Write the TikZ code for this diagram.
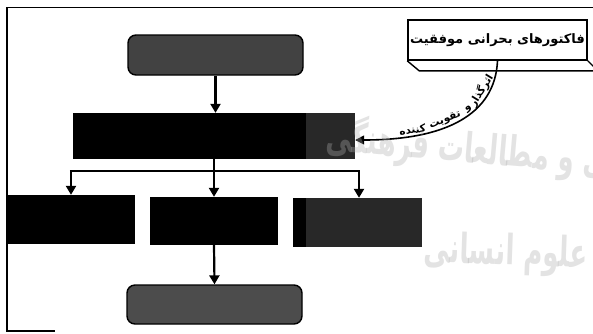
\documentclass[tikz,border=0pt]{standalone}
\usepackage{fontspec}
\usetikzlibrary{arrows.meta}
\TeXXeTstate=1
\newfontfamily\fa[Script=Arabic]{DejaVu Sans}
\definecolor{dgray}{RGB}{40,40,40}
\begin{document}
\begin{tikzpicture}[x=1pt,y=-1pt,
  conn/.style={line width=2.2pt,-{Triangle[width=10pt,length=9pt]}},
  plainline/.style={line width=2.2pt},
  term/.style={draw=black,line width=1.4pt,fill=black!74,rounded corners=8pt,inner sep=0pt},
  blk/.style={fill=black,draw=none,inner sep=0pt},
  blkg/.style={fill=dgray,draw=none,inner sep=0pt},
  framel/.style={line width=1.5pt},
  curvetext/.style={font=\fa\bfseries\fontsize{10.5}{11}\selectfont,sloped,above,inner sep=0.8pt},
  wmark/.style={anchor=base west,text=black!32,text opacity=0.34,inner sep=0pt,font=\fa\bfseries\fontsize{26}{28}\selectfont}
]
\useasboundingbox (0,0) rectangle (593,333);
\clip (0,0) rectangle (593,333);
% frame
\coordinate (f1) at (7,7.5);
\coordinate (f2) at (600,7.5);
\coordinate (f3) at (7,331);
\coordinate (f4) at (55,331);
\draw[framel] (f2) -- (f1) -- (f3) -- (f4);
% boxes
\node[term,minimum width=175pt,minimum height=40pt] (start) at (215.5,55) {};
\node[blk,minimum width=282pt,minimum height=46pt] (mid) at (214,136) {};
\fill[dgray] ([xshift=-49pt]mid.north east) rectangle (mid.south east);
\node[blk,minimum width=128pt,minimum height=49pt] (bl) at (71,219.5) {};
\node[blk,minimum width=128pt,minimum height=48pt] (bm) at (214,221) {};
\node[blkg,minimum width=129pt,minimum height=49pt] (br) at (357.5,222.5) {};
\fill[black] (br.north west) rectangle ([xshift=13pt]br.south west);
\node[term,fill=black!70,minimum width=175pt,minimum height=39pt] (end) at (214.5,304.5) {};
% connectors
\draw[conn] (start.south) -- (start.south |- mid.north);
\draw[conn] (mid.south) -- (bm.north);
\coordinate (jl) at (71,171);
\coordinate (jr) at (359,171);
\draw[plainline] ([xshift=-1.1pt]jl) -- ([xshift=1.1pt]jr);
\draw[conn] (jl) -- (jl |- bl.north);
\draw[conn] (jr) -- (jr |- br.north);
\draw[conn] (bm.south) -- (end.north);
% callout
\node[draw,line width=1.6pt,fill=white,minimum width=179pt,minimum height=40pt,inner sep=0pt,
  font=\fa\bfseries\fontsize{13}{15}\selectfont] (cf) at (497.5,40) {\beginR فاکتورهای بحرانی موفقیت\endR};
\draw[line width=1.4pt] (cf.south west) -- ++(12,10) -- ++(190,0);
\draw[line width=1.4pt] (cf.south east) -- ++(10,10);
% curved connector
\draw[line width=1.6pt,-{Triangle[width=9pt,length=9pt]}] (cf.south) .. controls (495,115) and (445,140) .. ([yshift=-4pt]mid.east)
  node[curvetext,pos=0.24] {\beginR اثرگذار\endR}
  node[curvetext,pos=0.405] {\beginR و\endR}
  node[curvetext,pos=0.575] {\beginR تقویت\endR}
  node[curvetext,pos=0.757] {\beginR کننده\endR};
% watermark
\node[wmark,rotate=-5,yscale=1.6] (wm1) at (325,150) {\beginR پژوهشگاه علوم انسانی و مطالعات فرهنگی\endR};
\node[wmark,rotate=-2,yscale=1.6] (wm2) at (423,262) {\beginR پرتال جامع علوم انسانی\endR};
\end{tikzpicture}
\end{document}
